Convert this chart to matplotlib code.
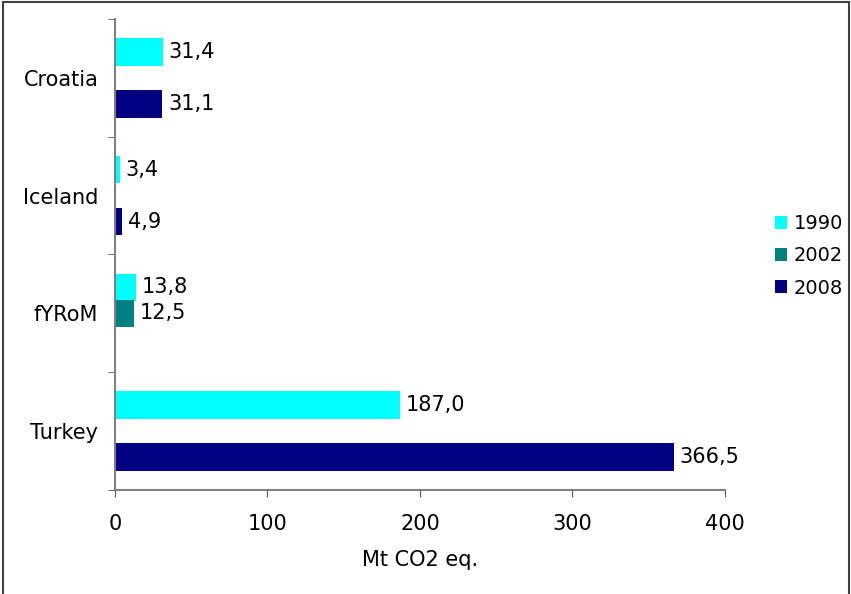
import numpy as np
import matplotlib.pyplot as plt
from matplotlib.patches import Rectangle

countries = ['Croatia', 'Iceland', 'fYRoM', 'Turkey']
years = ['1990', '2002', '2008']
v1990 = [31.4, 3.4, 13.8, 187.0]
v2002 = [None, None, 12.5, None]
v2008 = [31.1, 4.9, None, 366.5]
colors = ['#00FFFF', '#008080', '#000080']

plt.rcParams['font.family'] = ['DejaVu Sans']
plt.rcParams['font.size'] = 15

fig = plt.figure(figsize=(8.51, 5.94), dpi=100)
ax = fig.add_axes([0.1351, 0.1751, 0.8519 - 0.1351, 0.968 - 0.1751])

slot = 0.221
height = 0.232
series = [v1990, v2002, v2008]
pos = np.arange(len(countries))
for k, (vals, col, lab) in enumerate(zip(series, colors, years)):
    ys = pos + (k - 1) * slot
    xs = [np.nan if v is None else v for v in vals]
    bars = ax.barh(ys, xs, height=height, color=col, label=lab)
    for b, v in zip(bars, vals):
        if v is None:
            continue
        ax.annotate(f'{v:.1f}'.replace('.', ','),
                    (b.get_width(), b.get_y() + b.get_height() / 2),
                    xytext=(4, 0), textcoords='offset points',
                    va='center', ha='left', fontsize=15)

ax.set_ylim(len(countries) - 0.5, -0.5)
ax.set_xlim(0, 400)
ax.set_xticks([0, 100, 200, 300, 400])
ax.set_yticks(pos)
ax.set_yticklabels(countries)
ax.set_yticks(np.arange(-0.5, len(countries)), minor=True)
ax.tick_params(axis='y', which='major', length=0, pad=12)
ax.tick_params(axis='y', which='minor', length=5, color='#555555', direction='out')
ax.tick_params(axis='x', length=5, color='#555555', direction='out', pad=12)
for s in ['top', 'right']:
    ax.spines[s].set_visible(False)
for s in ['left', 'bottom']:
    ax.spines[s].set_color('#808080')
    ax.spines[s].set_linewidth(1.5)

ax.set_xlabel('Mt CO2 eq.', labelpad=12)

ax.legend(loc='center left', bbox_to_anchor=(1.082, 0.497), frameon=False,
          handlelength=0.64, handleheight=0.64, handletextpad=0.31,
          labelspacing=0.68, fontsize=14, borderaxespad=0, borderpad=0)

fig.patches.append(Rectangle((0.004, -0.01), 0.994, 1.006, transform=fig.transFigure,
                             fill=False, edgecolor='#404040', linewidth=1.5))

fig.savefig('out.png', dpi=100)
